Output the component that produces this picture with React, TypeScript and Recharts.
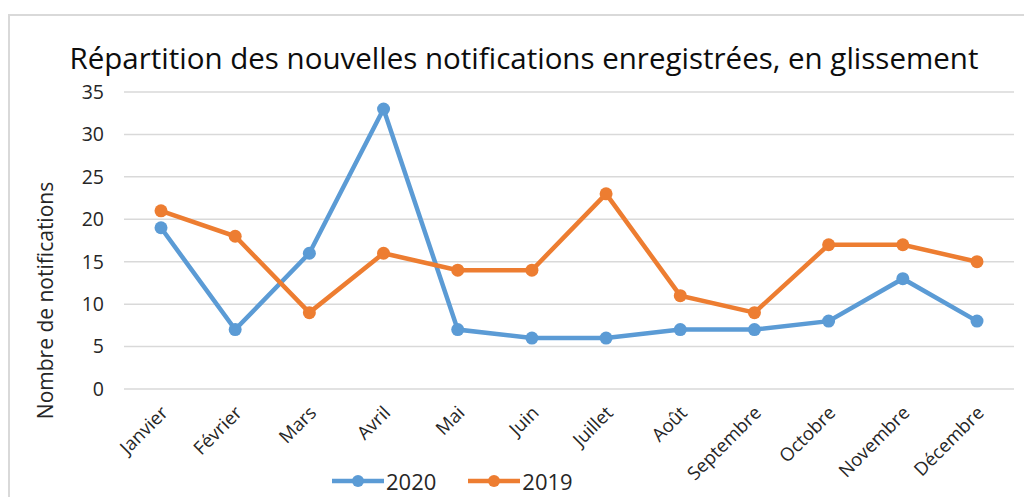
import React from 'react';
import { LineChart, Line, XAxis, YAxis, CartesianGrid } from 'recharts';

const months = ['Janvier', 'Février', 'Mars', 'Avril', 'Mai', 'Juin', 'Juillet', 'Août', 'Septembre', 'Octobre', 'Novembre', 'Décembre'];
const values2020 = [19, 7, 16, 33, 7, 6, 6, 7, 7, 8, 13, 8];
const values2019 = [21, 18, 9, 16, 14, 14, 23, 11, 9, 17, 17, 15];
const yTicks = [0, 5, 10, 15, 20, 25, 30, 35];

const blue = '#5B9BD5';
const orange = '#ED7D31';
const font = '"Open Sans", "Liberation Sans", sans-serif';

const data = months.map((m, i) => ({ month: m, y2020: values2020[i], y2019: values2019[i] }));

const MonthTick = (props: any) => {
  const { x, y, payload } = props;
  return (
    <g transform={`translate(${x + 8},${y + 17})`}>
      <text transform="rotate(-45)" textAnchor="end" fontSize={18.5} fill="#262626" fontFamily={font}>
        {payload.value}
      </text>
    </g>
  );
};

const YLabel = (props: any) => {
  const { viewBox } = props;
  const cx = viewBox.x + 45;
  const cy = viewBox.y + viewBox.height / 2 + 60;
  return (
    <text x={cx} y={cy} transform={`rotate(-90, ${cx}, ${cy})`} textAnchor="middle" dominantBaseline="central" fontSize={21} fill="#262626" fontFamily={font}>
      Nombre de notifications
    </text>
  );
};

const LegendItem = ({ color, label }: { color: string; label: string }) => (
  <div style={{ display: 'flex', alignItems: 'center', marginRight: 32 }}>
    <svg width={52} height={14}>
      <line x1={0} y1={7} x2={52} y2={7} stroke={color} strokeWidth={4.5} />
      <circle cx={26} cy={7} r={6} fill={color} />
    </svg>
    <span style={{ fontSize: 22, color: '#262626', marginLeft: 2 }}>{label}</span>
  </div>
);

export default function App() {
  return (
    <div style={{ position: 'absolute', left: 0, top: 0, width: 1024, height: 497, overflow: 'hidden', background: '#fff', fontFamily: font }}>
      <div style={{ position: 'absolute', left: 8, top: 14, width: 1040, height: 500, border: '2px solid #d9d9d9', boxSizing: 'border-box' }} />
      <div style={{ position: 'absolute', left: 0, top: 37, width: 1048, textAlign: 'center', fontSize: 29.5, color: '#0d0d0d', whiteSpace: 'nowrap' }}>
        Répartition des nouvelles notifications enregistrées, en glissement
      </div>
      <div style={{ position: 'absolute', left: 0, top: 0 }}>
        <LineChart width={1024} height={497} data={data} margin={{ top: 92, right: 10, bottom: 48, left: 0 }}>
          <CartesianGrid vertical={false} stroke="#d9d9d9" strokeWidth={1.5} />
          <XAxis
            dataKey="month"
            interval={0}
            height={60}
            padding={{ left: 37, right: 37 }}
            axisLine={false}
            tickLine={false}
            tick={<MonthTick />}
          />
          <YAxis
            width={124}
            domain={[0, 35]}
            ticks={yTicks}
            axisLine={false}
            tickLine={false}
            tickMargin={14}
            tick={{ fontSize: 19.5, fill: '#262626', fontFamily: font }}
            label={<YLabel />}
          />
          <Line dataKey="y2020" name="2020" stroke={blue} strokeWidth={4.5} dot={{ r: 6.5, fill: blue, stroke: blue, strokeWidth: 0 }} isAnimationActive={false} />
          <Line dataKey="y2019" name="2019" stroke={orange} strokeWidth={4.5} dot={{ r: 6.5, fill: orange, stroke: orange, strokeWidth: 0 }} isAnimationActive={false} />
        </LineChart>
      </div>
      <div style={{ position: 'absolute', left: 332, top: 466, display: 'flex' }}>
        <LegendItem color={blue} label="2020" />
        <LegendItem color={orange} label="2019" />
      </div>
    </div>
  );
}
